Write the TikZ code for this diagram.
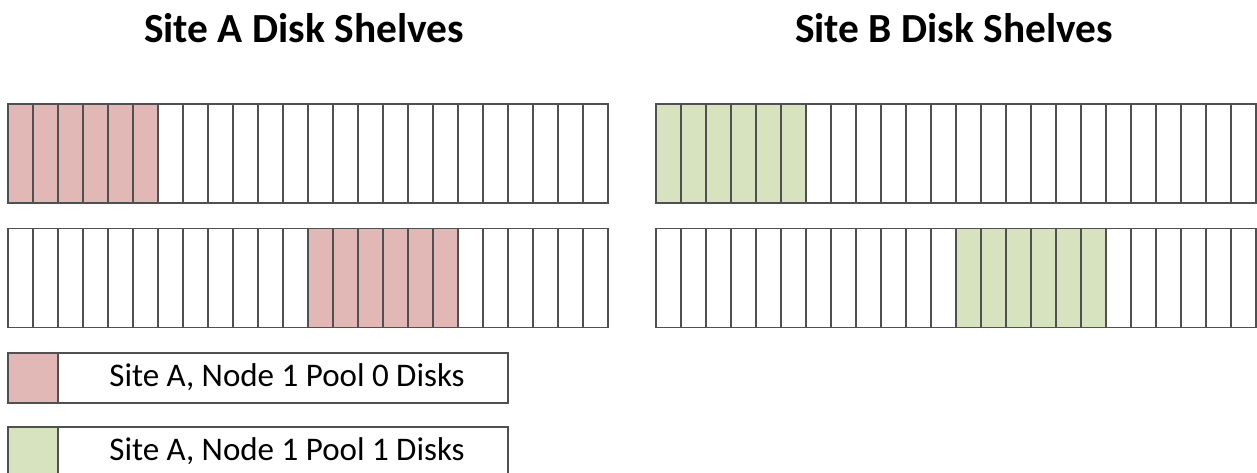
\documentclass[tikz,border=0pt]{standalone}
\usepackage{fontspec}
\setmainfont{Carlito}
\definecolor{poolpink}{HTML}{E2B8B6}
\definecolor{poolgreen}{HTML}{D7E2BE}
\definecolor{cellline}{HTML}{505050}
\tikzset{
  cell/.style={draw=cellline, line width=1.3pt, minimum width=25pt, minimum height=99pt, inner sep=0pt, outer sep=0pt},
  title/.style={font=\bfseries\fontsize{41.4}{48}\selectfont, inner sep=0pt, anchor=base},
  swatch/.style={draw=cellline, line width=1.3pt, minimum width=50pt, minimum height=50pt, inner sep=0pt, outer sep=0pt},
  legendbox/.style={draw=cellline, line width=1.3pt, minimum width=450pt, minimum height=50pt, inner sep=0pt, outer sep=0pt},
  legendtext/.style={font=\fontsize{33}{38}\selectfont, inner sep=0pt, anchor=base}
}
\begin{document}
\begin{tikzpicture}[x=1pt,y=-1pt]
\useasboundingbox (0,0) rectangle (1257,472);
\clip (0,0) rectangle (1257,472);
\node[title] (titleA) at (304,42) {Site A Disk Shelves};
\node[title] (titleB) at (954,42) {Site B Disk Shelves};
\foreach \i in {0,...,23}{
  \pgfmathtruncatemacro{\inA}{(\i<6)}
  \pgfmathtruncatemacro{\inB}{(\i>11)&&(\i<18)}
  \ifnum\inA=1
    \node[cell, fill=poolpink] (a1c\i) at (20.5+25*\i,153.5) {};
    \node[cell, fill=poolgreen] (b1c\i) at (668.5+25*\i,153.5) {};
  \else
    \node[cell, fill=white] (a1c\i) at (20.5+25*\i,153.5) {};
    \node[cell, fill=white] (b1c\i) at (668.5+25*\i,153.5) {};
  \fi
  \ifnum\inB=1
    \node[cell, fill=poolpink] (a2c\i) at (20.5+25*\i,278) {};
    \node[cell, fill=poolgreen] (b2c\i) at (668.5+25*\i,278) {};
  \else
    \node[cell, fill=white] (a2c\i) at (20.5+25*\i,278) {};
    \node[cell, fill=white] (b2c\i) at (668.5+25*\i,278) {};
  \fi
}
\node[swatch, fill=poolpink] (sw0) at (33,378) {};
\node[legendbox, anchor=west] (lg0) at (sw0.east) {};
\node[legendtext] (lt0) at (287,386) {Site A, Node 1 Pool 0 Disks};
\node[swatch, fill=poolgreen] (sw1) at (33,452) {};
\node[legendbox, anchor=west] (lg1) at (sw1.east) {};
\node[legendtext] (lt1) at (287,460) {Site A, Node 1 Pool 1 Disks};
\end{tikzpicture}
\end{document}
